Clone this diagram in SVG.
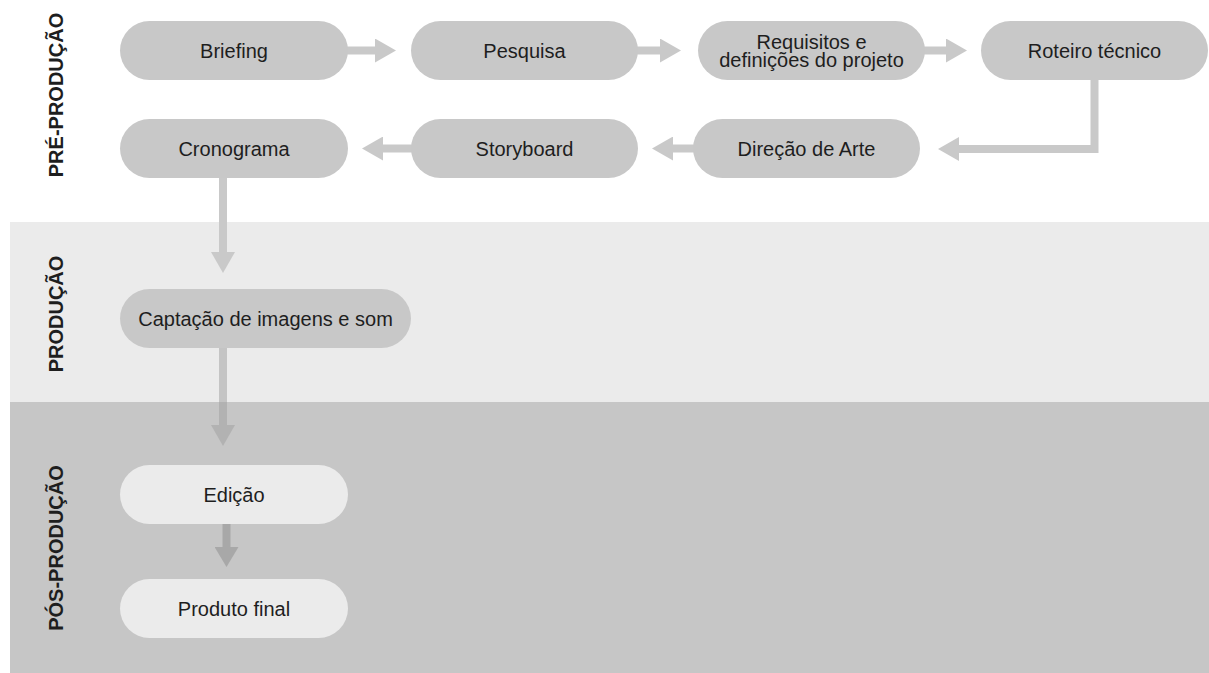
<svg xmlns="http://www.w3.org/2000/svg" width="1209" height="673" viewBox="0 0 1209 673">
<style>
.node{fill:#c8c8c8}
.nodeL{fill:#ebebeb}
.t{font-family:"Liberation Sans",Arial,sans-serif;font-size:20px;fill:#1e1e1e;text-anchor:middle}
.lab{font-family:"Liberation Sans",Arial,sans-serif;font-size:20px;font-weight:bold;fill:#1e1e1e;text-anchor:middle}
.c{stroke:#c9c9c9;stroke-width:8;fill:none}
</style>
<defs>
<marker id="ah" markerUnits="userSpaceOnUse" markerWidth="21" markerHeight="24" viewBox="0 0 21 24" refX="0" refY="12" orient="auto"><path d="M0,0 L21,12 L0,24 Z" fill="#c9c9c9"/></marker>
<marker id="ahD" markerUnits="userSpaceOnUse" markerWidth="21" markerHeight="24" viewBox="0 0 21 24" refX="0" refY="12" orient="auto"><path d="M0,0 L21,12 L0,24 Z" fill="#b2b2b2"/></marker>
<marker id="ahE" markerUnits="userSpaceOnUse" markerWidth="20" markerHeight="24" viewBox="0 0 20 24" refX="0" refY="12" orient="auto"><path d="M0,0 L20,12 L0,24 Z" fill="#a8a8a8"/></marker>
</defs>
<rect width="1209" height="673" fill="#ffffff"/>
<g id="bands">
<rect x="10" y="222" width="1199" height="180" fill="#ebebeb"/>
<rect x="10" y="402" width="1199" height="271" fill="#c6c6c6"/>
</g>
<g id="labels">
<text class="lab" transform="translate(63,95) rotate(-90)">PRÉ-PRODUÇÃO</text>
<text class="lab" transform="translate(63,314) rotate(-90)">PRODUÇÃO</text>
<text class="lab" transform="translate(63,548) rotate(-90)">PÓS-PRODUÇÃO</text>
</g>
<g id="connectors">
<line class="c" x1="346" y1="50.5" x2="375" y2="50.5" marker-end="url(#ah)"/>
<line class="c" x1="636" y1="50.5" x2="660" y2="50.5" marker-end="url(#ah)"/>
<line class="c" x1="923" y1="50.5" x2="946" y2="50.5" marker-end="url(#ah)"/>
<path class="c" d="M1094.5,78 V149 H959" marker-end="url(#ah)"/>
<line class="c" x1="695" y1="148.5" x2="673" y2="148.5" marker-end="url(#ah)"/>
<line class="c" x1="413" y1="148.5" x2="383" y2="148.5" marker-end="url(#ah)"/>
<line class="c" x1="223" y1="176" x2="223" y2="252" marker-end="url(#ah)"/>
<line x1="223" y1="346" x2="223" y2="402" stroke="#c4c4c4" stroke-width="8"/>
<line x1="223" y1="402" x2="223" y2="425" stroke="#b2b2b2" stroke-width="8" marker-end="url(#ahD)"/>
<line x1="226.5" y1="522" x2="226.5" y2="547" stroke="#a8a8a8" stroke-width="8" marker-end="url(#ahE)"/>
</g>
<g id="n-briefing"><rect class="node" x="120" y="21" width="228" height="59" rx="29.5"/><text class="t" x="234" y="57.5">Briefing</text></g>
<g id="n-pesquisa"><rect class="node" x="411" y="21" width="227" height="59" rx="29.5"/><text class="t" x="524.5" y="57.5">Pesquisa</text></g>
<g id="n-requisitos"><rect class="node" x="698" y="21" width="227" height="59" rx="29.5"/><text class="t" x="811.5" y="48.5">Requisitos e</text><text class="t" x="811.5" y="67">definições do projeto</text></g>
<g id="n-roteiro"><rect class="node" x="981" y="21" width="227" height="59" rx="29.5"/><text class="t" x="1094.5" y="57.5">Roteiro técnico</text></g>
<g id="n-cronograma"><rect class="node" x="120" y="119" width="228" height="59" rx="29.5"/><text class="t" x="234" y="155.5">Cronograma</text></g>
<g id="n-storyboard"><rect class="node" x="411" y="119" width="227" height="59" rx="29.5"/><text class="t" x="524.5" y="155.5">Storyboard</text></g>
<g id="n-direcao"><rect class="node" x="693" y="119" width="227" height="59" rx="29.5"/><text class="t" x="806.5" y="155.5">Direção de Arte</text></g>
<g id="n-captacao"><rect class="node" x="120" y="289" width="291" height="59" rx="29.5"/><text class="t" x="265.5" y="325.5">Captação de imagens e som</text></g>
<g id="n-edicao"><rect class="nodeL" x="120" y="465" width="228" height="59" rx="29.5"/><text class="t" x="234" y="501.5">Edição</text></g>
<g id="n-produto"><rect class="nodeL" x="120" y="579" width="228" height="59" rx="29.5"/><text class="t" x="234" y="615.5">Produto final</text></g>
</svg>
